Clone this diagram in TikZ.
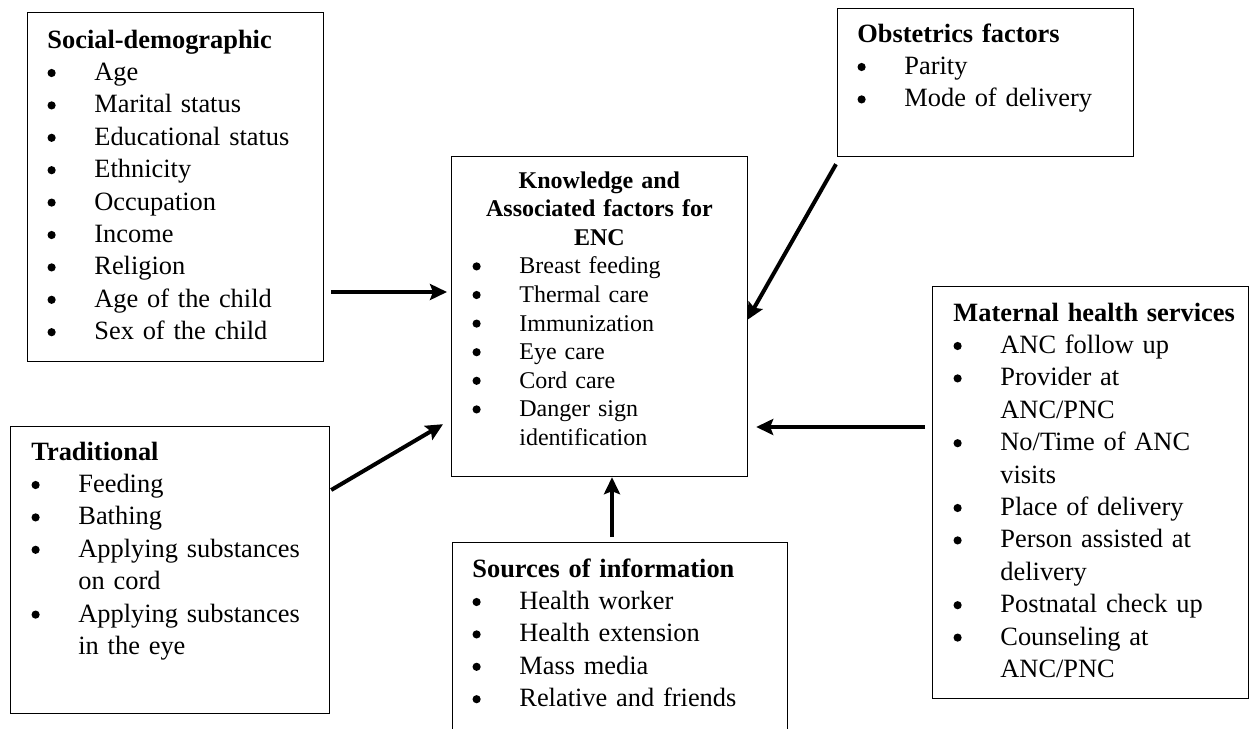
\documentclass[tikz,border=0pt]{standalone}
\usepackage{fontspec}
\setmainfont{Liberation Serif}
\usetikzlibrary{arrows.meta,calc}

\newcommand{\bl}{\makebox[23.5pt][l]{\tikz[baseline=0pt]{\useasboundingbox (0,0) rectangle (4.2pt,5.8pt);
  \fill (2.1pt,3.7pt) circle (2.05pt);}}}
\newcommand{\nx}{\hspace*{23.5pt}}
\newcommand{\hd}[1]{\makebox[127pt][c]{\bfseries #1}}

\tikzset{
  fbox/.style={draw, line width=0.6pt, inner sep=0pt, anchor=north west},
  txt/.style={anchor=base west, inner sep=0pt, text width=170pt, align=left,
    font=\fontsize{13.2}{16.2}\selectfont},
  arr/.style={line width=2pt, -{Stealth[length=8.5pt,width=8pt,inset=1.5pt]}}
}

\begin{document}
\begin{tikzpicture}[x=0.5pt,y=-0.5pt]
\useasboundingbox (0,0) rectangle (1249,729);
\clip (0,0) rectangle (1249,729);

% boxes
\node[fbox, minimum width=148pt, minimum height=174.5pt] (soc) at (27,12) {};
\node[fbox, minimum width=148pt, minimum height=160pt] (enc) at (451,156) {};
\node[fbox, minimum width=148pt, minimum height=74pt] (obs) at (837,8) {};
\node[fbox, minimum width=158pt, minimum height=206pt] (mat) at (932,286) {};
\node[fbox, minimum width=159.5pt, minimum height=143.5pt] (trad) at (10,426) {};
\node[fbox, minimum width=167.5pt, minimum height=200pt] (src) at (452,542) {};

% texts
\node[txt] (soctxt) at (47,48) {\textbf{Social-demographic}\\
  \bl Age\\ \bl Marital status\\ \bl Educational status\\ \bl Ethnicity\\
  \bl Occupation\\ \bl Income\\ \bl Religion\\ \bl Age of the child\\
  \bl Sex of the child};

\node[txt, text width=127pt, font=\fontsize{12}{14.3}\selectfont] (enctxt) at (472,188)
  {\hd{Knowledge and}\\ \hd{Associated factors for}\\ \hd{ENC}\\
  \bl Breast feeding\\ \bl Thermal care\\ \bl Immunization\\ \bl Eye care\\
  \bl Cord care\\ \bl Danger sign\\ \nx identification};

\node[txt] (obstxt) at (857,42) {\textbf{Obstetrics factors}\\
  \bl Parity\\ \bl Mode of delivery};

\node[txt] (mattxt) at (953,321) {\textbf{Maternal health services}\\
  \bl ANC follow up\\ \bl Provider at\\ \nx ANC/PNC\\ \bl No/Time of ANC\\
  \nx visits\\ \bl Place of delivery\\ \bl Person assisted at\\ \nx delivery\\
  \bl Postnatal check up\\ \bl Counseling at\\ \nx ANC/PNC};

\node[txt] (tradtxt) at (31,460) {\textbf{Traditional}\\
  \bl Feeding\\ \bl Bathing\\ \bl Applying substances\\ \nx on cord\\
  \bl Applying substances\\ \nx in the eye};

\node[txt] (srctxt) at (472,577) {\textbf{Sources of information}\\
  \bl Health worker\\ \bl Health extension\\ \bl Mass media\\
  \bl Relative and friends};

% arrows
\draw[arr] ([shift={(7,280)}]soc.north east) -- ([shift={(-4,136)}]enc.north west);
\draw[arr] ([shift={(-1,7)}]obs.south west) -- ([shift={(-1,164)}]enc.north east);
\draw[arr] ([shift={(1,64)}]trad.north east) -- ([shift={(-8,-53)}]enc.south west);
\draw[arr] ([shift={(160,-5)}]src.north west) -- ([shift={(161,0)}]enc.south west);
\draw[arr] ([shift={(-7,141)}]mat.north west) -- ([shift={(8,271)}]enc.north east);
\end{tikzpicture}
\end{document}
